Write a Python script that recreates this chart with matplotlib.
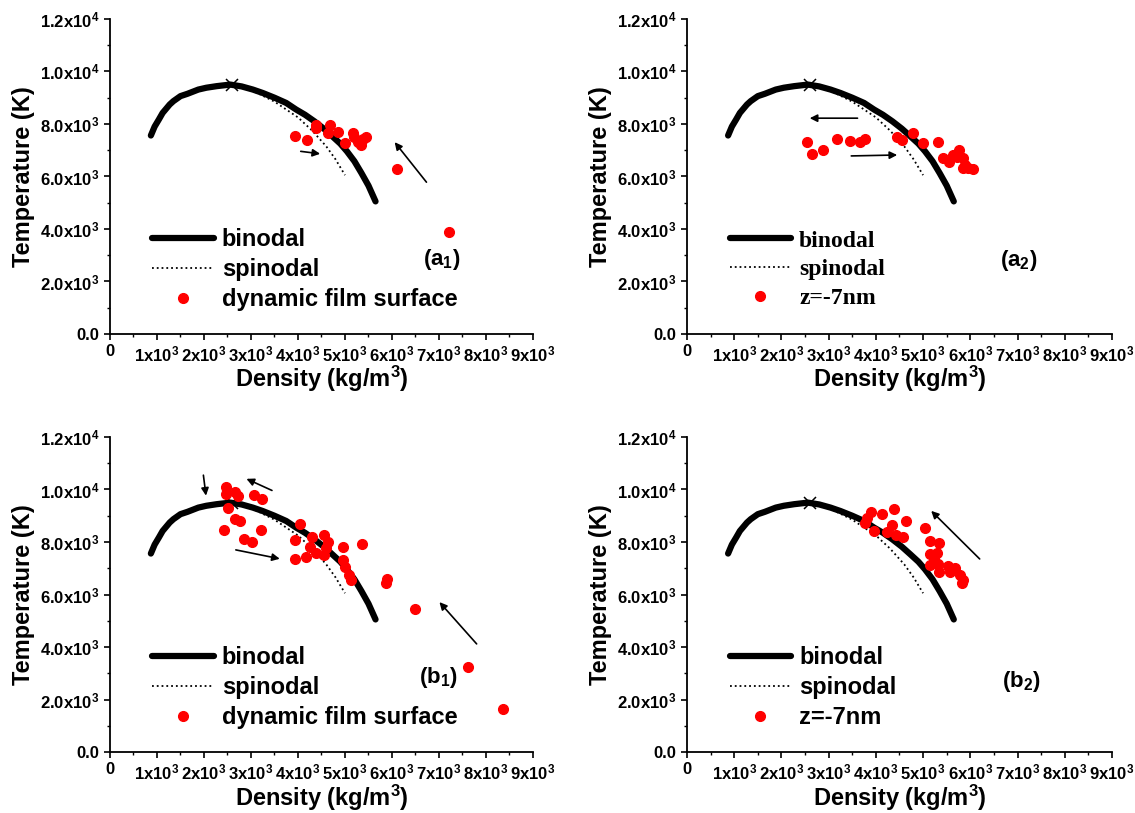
import numpy as np
import matplotlib.pyplot as plt

plt.rcParams['font.family'] = ['Liberation Sans', 'DejaVu Sans']
plt.rcParams['font.weight'] = 'bold'
plt.rcParams['mathtext.fontset'] = 'custom'
plt.rcParams['mathtext.rm'] = 'Liberation Sans:bold'
plt.rcParams['mathtext.bf'] = 'Liberation Sans:bold'
plt.rcParams['mathtext.it'] = 'Liberation Sans:bold:italic'
plt.rcParams['mathtext.default'] = 'bf'

# coexistence curves, same in all four panels (density kg/m3, temperature K)
bin_rho = [870, 950, 1040, 1120, 1270, 1350, 1500, 1650, 1880, 2050, 2270, 2560, 2800, 3040,
           3250, 3500, 3750, 3960, 4150, 4350, 4550, 4730, 4900, 5040, 5200, 5350, 5500, 5650]
bin_T = [7560, 7900, 8170, 8420, 8740, 8870, 9060, 9150, 9310, 9380, 9440, 9500, 9430, 9310,
         9180, 9000, 8800, 8550, 8350, 8100, 7820, 7530, 7250, 6960, 6580, 6130, 5650, 5050]
spin_rho = [2600, 3000, 3500, 4000, 4300, 4600, 4800, 5000]
spin_T = [9500, 9300, 8850, 8250, 7750, 7150, 6650, 6050]
crit_rho = [2600]
crit_T = [9470]

# (a1) dynamic film surface
a1_rho = [3930, 4190, 4390, 4390, 4680, 4640, 4850, 4990, 5170, 5200, 5390, 5440, 5350, 5280, 6100, 7220]
a1_T = [7540, 7390, 7960, 7830, 7960, 7670, 7710, 7260, 7640, 7490, 7420, 7500, 7200, 7330, 6270, 3880]
# (a2) z=-7nm
a2_rho = [2550, 2640, 2890, 3170, 3450, 3670, 3770, 4440, 4550, 4780, 4990, 5320, 5430, 5540,
          5640, 5750, 5850, 5890, 5960, 6050, 5850, 5710]
a2_T = [7330, 6860, 7010, 7430, 7360, 7300, 7420, 7520, 7390, 7640, 7260, 7300, 6690, 6560,
        6820, 7010, 6690, 6440, 6310, 6270, 6310, 6750]
# (b1) dynamic film surface
b1_rho = [2470, 2460, 2670, 2720, 3060, 3240, 2510, 2650, 2760, 2420, 3220, 2860, 3020, 4050,
          3930, 3930, 4180, 4290, 4250, 4390, 4550, 4640, 4600, 4550, 4950, 5370, 4960, 5010,
          5090, 5120, 5900, 5870, 6490, 7620, 8360]
b1_T = [10100, 9830, 9920, 9750, 9790, 9630, 9280, 8880, 8800, 8460, 8460, 8100, 8010, 8690,
        8080, 7350, 7440, 8200, 7820, 7570, 8270, 8010, 7760, 7500, 7800, 7910, 7310, 7060,
        6740, 6550, 6580, 6430, 5440, 3230, 1630]
# (b2) z=-7nm
b2_rho = [3890, 3820, 3770, 3950, 4130, 4390, 4640, 4340, 4230, 4430, 4570, 5040, 5150, 5340,
          5150, 5290, 5150, 5320, 5340, 5530, 5680, 5790, 5840, 5820, 5580, 5240]
b2_T = [9150, 8900, 8740, 8430, 9070, 9250, 8800, 8650, 8390, 8270, 8180, 8550, 8040, 7950,
        7530, 7570, 7120, 7150, 6870, 7090, 7000, 6740, 6550, 6450, 6870, 7340]

# arrows: (tail, head) in data units
a1_arrows = [((4000, 6970), (4530, 6850)), ((6770, 5700), (6020, 7390))]
a2_arrows = [((3670, 8220), (2540, 8220)), ((3420, 6780), (4510, 6820))]
b1_arrows = [((1980, 10650), (2050, 9660)), ((3500, 9920), (2850, 10450)),
             ((2620, 7720), (3670, 7340)), ((7840, 4040), (6970, 5790))]
b2_arrows = [((6240, 7280), (5130, 9260))]

panels = [
    ([0.0969, 0.5892, 0.3727, 0.3875], a1_rho, a1_T, a1_arrows, 'dynamic film surface', '(a$_1$)', (6650, 2850), False),
    ([0.6053, 0.5892, 0.3744, 0.3875], a2_rho, a2_T, a2_arrows, 'z=-7nm', '(a$_2$)', (6630, 2800), True),
    ([0.0969, 0.0750, 0.3727, 0.3875], b1_rho, b1_T, b1_arrows, 'dynamic film surface', '(b$_1$)', (6580, 2850), False),
    ([0.6053, 0.0750, 0.3744, 0.3875], b2_rho, b2_T, b2_arrows, 'z=-7nm', '(b$_2$)', (6670, 2670), False),
]

xticks = np.arange(0, 10000, 1000)
xlabels = ['0'] + ['%dx10$^3$' % i for i in range(1, 10)]
yticks = np.arange(0, 14000, 2000)
ylabels = ['0.0', '2.0x10$^3$', '4.0x10$^3$', '6.0x10$^3$', '8.0x10$^3$', '1.0x10$^4$', '1.2x10$^4$']

fig = plt.figure(figsize=(11.35, 8.13), dpi=100)

for rect, rho, T, arrows, dlabel, tag, tagpos, serif in panels:
    ax = fig.add_axes(rect)
    ax.plot(bin_rho, bin_T, color='black', lw=4.5, solid_capstyle='round',
            solid_joinstyle='round', label='binodal')
    ax.plot(spin_rho, spin_T, color='black', lw=1.3, ls=':', label='spinodal')
    ax.plot(crit_rho, crit_T, 'x', color='black', ms=9, mew=1.1)
    ax.plot(rho, T, 'o', color='#ff0000', ms=7, mec='#ff0000', ls='none', label=dlabel)
    for tail, head in arrows:
        ax.annotate('', xy=head, xytext=tail,
                    arrowprops=dict(arrowstyle='-|>', color='black', lw=1.2, mutation_scale=11))
    ax.text(tagpos[0], tagpos[1], tag, fontsize=16, fontweight='bold', va='center')

    ax.set_xlim(0, 9000)
    ax.set_ylim(0, 12000)
    ax.set_xticks(xticks)
    ax.set_xticklabels(xlabels)
    ax.set_yticks(yticks)
    ax.set_yticklabels(ylabels)
    ax.set_xticks(np.arange(500, 9000, 1000), minor=True)
    ax.set_yticks(np.arange(1000, 12000, 2000), minor=True)
    ax.tick_params(which='major', direction='out', length=4, width=1.2, labelsize=12)
    ax.tick_params(which='minor', direction='out', length=2.5, width=1.0)
    for s in ['top', 'right']:
        ax.spines[s].set_visible(False)
    for s in ['left', 'bottom']:
        ax.spines[s].set_linewidth(1.3)
    ax.set_xlabel('Density (kg/m$^3$)', fontsize=17, fontweight='bold', labelpad=0)
    ax.set_ylabel('Temperature (K)', fontsize=17, fontweight='bold', labelpad=4)

    if serif:
        prop = dict(family='Liberation Serif', weight='bold', size=17)
    else:
        prop = dict(weight='bold', size=17)
    ax.legend(loc='center left', bbox_to_anchor=(0.1, 0.205), frameon=False, prop=prop,
              borderpad=0, borderaxespad=0, handlelength=2.6, handletextpad=0.35,
              labelspacing=0.3, numpoints=1)

fig.savefig('out.png', dpi=100)
